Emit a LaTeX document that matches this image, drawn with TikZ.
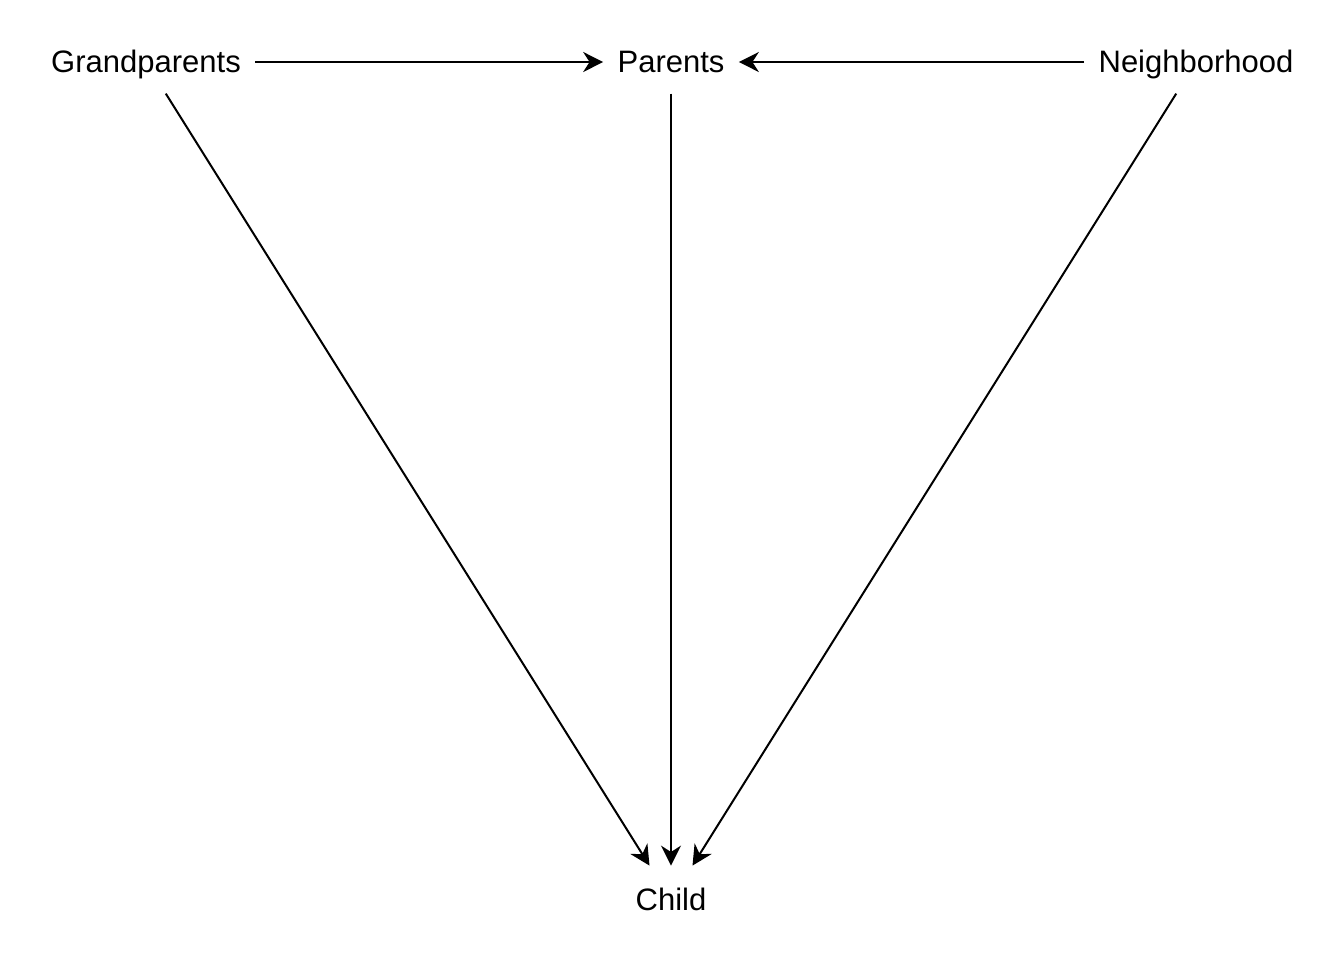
\documentclass[tikz,border=0pt]{standalone}
\usepackage{fontspec}
\setmainfont{Liberation Sans}
\usetikzlibrary{arrows.meta,positioning}

\begin{document}
\begin{tikzpicture}[
  x=0.5pt, y=-0.5pt,
  var/.style={rectangle, draw=none, font=\fontsize{15.5}{18}\selectfont,
              inner xsep=7pt, inner ysep=9.3pt,
              text height=11.3pt, text depth=1.3pt},
  outcome/.style={var, inner ysep=10.7pt},
  arrow/.style={-{Stealth[length=10pt, width=10pt, inset=3.2pt]}, line width=1pt}
]

% Canvas
\useasboundingbox (0,0) rectangle (1344,960);

% Variables
\node[var] (gp) at (146,62)  {Grandparents};
\node[var] (pa) at (671,62) {Parents};
\node[var] (nb) at (1196,62) {Neighborhood};
\node[outcome] (ch) at (671,900) {Child};

% Edges
\draw[arrow] (gp) -- (pa);
\draw[arrow] (nb) -- (pa);
\draw[arrow] (gp) -- (ch);
\draw[arrow] (pa) -- (ch);
\draw[arrow] (nb) -- (ch);

\end{tikzpicture}
\end{document}
